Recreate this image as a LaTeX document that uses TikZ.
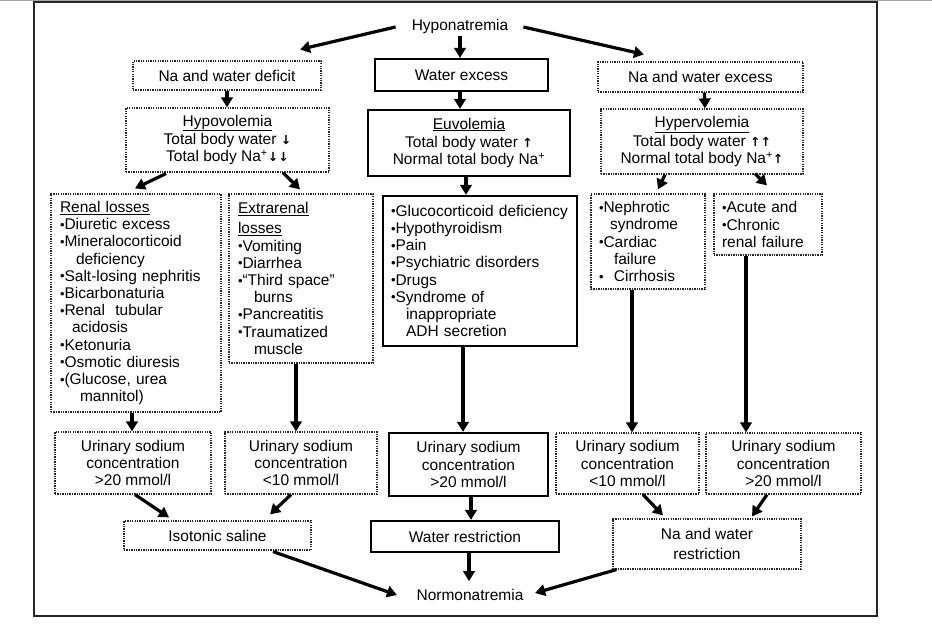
\documentclass[tikz,border=0pt]{standalone}
\usepackage{fontspec}
\setmainfont{Liberation Sans}
\newfontfamily\arrfont{DejaVu Sans}
\usetikzlibrary{arrows.meta,calc}
\newcommand{\bu}{\raisebox{0.05ex}{\fontsize{13}{13}\selectfont •}}
\newcommand{\ardn}{{\arrfont\bfseries\fontsize{12.5}{12.5}\selectfont ↓}}
\newcommand{\arup}{{\arrfont\bfseries\fontsize{12.5}{12.5}\selectfont ↑}}
\begin{document}
\begin{tikzpicture}[x=1pt,y=-1pt,
  every node/.style={font=\fontsize{15.5}{17.2}\selectfont, inner sep=0pt},
  dbox/.style={draw=black!85, dash pattern=on 1.3pt off 1.1pt, line width=1.2pt},
  sbox/.style={draw=black, line width=2.2pt},
  arr/.style={line width=3.2pt, -{Triangle[length=10pt,width=11.5pt]}},
]
\useasboundingbox (0,0) rectangle (932,629);
\draw[black!35, line width=1.5pt] (0,0.6) -- (932,0.6);
\draw[black!85, line width=1.5pt] (34,2) rectangle (877,616);

% top level
\node (hypo) at (460,26) {Hyponatremia};
\node[dbox, minimum width=188pt, minimum height=29pt] (deficit) at (227,75.5) {Na and water deficit};
\node[sbox, minimum width=173pt, minimum height=32pt] (wexcess) at (461.5,75) {Water excess};
\node[dbox, minimum width=205pt, minimum height=30pt] (nwexcess) at (700.5,77) {Na and water excess};

% volemia
\node[dbox, minimum width=203pt, minimum height=64pt, align=center] (hypovol) at (227.5,140)
  {\underline{Hypovolemia}\\[1.5pt] Total body water \ardn\\ Total body Na\textsuperscript{+}\ardn\ardn};
\node[sbox, minimum width=202pt, minimum height=66pt, align=center] (euvol) at (469,143)
  {\underline{Euvolemia}\\[1.5pt] Total body water \arup\\ Normal total body Na\textsuperscript{+}};
\node[dbox, minimum width=202pt, minimum height=65pt, align=center] (hypervol) at (702,141.5)
  {\underline{Hypervolemia}\\[1.5pt] Total body water \arup\arup\\ Normal total body Na\textsuperscript{+}\arup};

% causes
\node[dbox, minimum width=170pt, minimum height=218pt, text width=152pt, align=left] (renal) at (136,303)
  {\underline{Renal losses}\\
   \bu Diuretic excess\\
   \bu Mineralocorticoid\\
   \hspace*{16pt}deficiency\\
   \bu\mbox{Salt-losing nephritis}\\
   \bu Bicarbonaturia\\
   \bu Renal\ \ tubular\\
   \hspace*{12pt}acidosis\\
   \bu Ketonuria\\
   \bu Osmotic diuresis\\
   \bu (Glucose, urea\\
   \hspace*{20pt}mannitol)};
\node[dbox, minimum width=144pt, minimum height=169pt, text width=126pt, align=left] (extra) at (301,278.5)
  {\underline{Extrarenal}\\[3pt]
   \underline{losses}\\
   \bu Vomiting\\
   \bu Diarrhea\\
   \bu “Third space”\\
   \hspace*{16pt}burns\\
   \bu Pancreatitis\\
   \bu Traumatized\\
   \hspace*{16pt}muscle};
\node[sbox, minimum width=194pt, minimum height=150pt, text width=178pt, align=left] (eulist) at (480,271)
  {\bu\mbox{Glucocorticoid deficiency}\\
   \bu Hypothyroidism\\
   \bu Pain\\
   \bu\mbox{Psychiatric disorders}\\
   \bu Drugs\\
   \bu Syndrome of\\
   \hspace*{15pt}inappropriate\\
   \hspace*{15pt}ADH secretion};
\node[dbox, minimum width=114pt, minimum height=95pt, text width=98pt, align=left] (nephr) at (648,241.5)
  {\bu Nephrotic\\
   \hspace*{11pt}syndrome\\
   \bu Cardiac\\
   \hspace*{15pt}failure\\
   \bu\ \ Cirrhosis};
\node[dbox, minimum width=108pt, minimum height=61pt, text width=92pt, align=left] (acute) at (768,224.5)
  {\bu Acute and\\
   \bu Chronic\\
   renal failure};

% urinary sodium
\node[dbox, minimum width=156pt, minimum height=62pt, align=center] (u1) at (133,463)
  {Urinary sodium\\ concentration\\ >20 mmol/l};
\node[dbox, minimum width=152pt, minimum height=62pt, align=center] (u2) at (301,463)
  {Urinary sodium\\ concentration\\ <10 mmol/l};
\node[sbox, minimum width=159pt, minimum height=63pt, align=center] (u3) at (468.5,464.5)
  {Urinary sodium\\ concentration\\ >20 mmol/l};
\node[dbox, minimum width=143pt, minimum height=61pt, align=center] (u4) at (627.5,463.5)
  {Urinary sodium\\ concentration\\ <10 mmol/l};
\node[dbox, minimum width=155pt, minimum height=61pt, align=center] (u5) at (783.5,463.5)
  {Urinary sodium\\ concentration\\ >20 mmol/l};

% treatments
\node[dbox, minimum width=187pt, minimum height=29pt] (iso) at (217.5,535.5) {Isotonic saline};
\node[sbox, minimum width=188pt, minimum height=31pt] (wrest) at (465,536.5) {Water restriction};
\node[dbox, minimum width=188pt, minimum height=50pt, align=center] (nwrest) at (707,544)
  {Na and water\\[2pt] restriction};
\node (normo) at (470,595) {Normonatremia};

% arrows
\draw[arr] ($(hypo.west)+(-16,1)$) -- ($(deficit.north)+(73,-11)$);
\draw[arr] ($(hypo.south)+(0,3)$) -- (hypo.south |- wexcess.north);
\draw[arr] ($(hypo.east)+(15,1)$) -- ($(nwexcess.north)+(-56.5,-7)$);
\draw[arr] (deficit.south) -- (deficit.south |- hypovol.north);
\draw[arr] (wexcess.south -| hypo.south) -- (hypo.south |- euvol.north);
\draw[arr] ($(nwexcess.south)+(4,0)$) -- ($(hypervol.north)+(3,0)$);
\draw[arr] ($(hypovol.south)+(-61.5,1)$) -- ($(renal.north)+(-1,-5)$);
\draw[arr] ($(hypovol.south)+(55.5,0)$) -- ($(extra.north)+(-1,-4)$);
\draw[arr] ($(euvol.south)+(-3,0)$) -- ($(eulist.north)+(-14,0)$);
\draw[arr] ($(hypervol.south)+(-37,0)$) -- ($(nephr.north)+(10,-4)$);
\draw[arr] ($(hypervol.south)+(53,-1)$) -- ($(acute.north)+(-1,-8)$);
\draw[arr] ($(renal.south)+(-4,0)$) -- ($(u1.north)+(-1,0)$);
\draw[arr] ($(extra.south)+(-5,0)$) -- ($(u2.north)+(-5,0)$);
\draw[arr] ($(eulist.south)+(-17,0)$) -- ($(u3.north)+(-5.5,0)$);
\draw[arr] ($(nephr.south)+(-16,0)$) -- ($(u4.north)+(4.5,0)$);
\draw[arr] ($(acute.south)+(-22,0)$) -- ($(u5.north)+(-37.5,0)$);
\draw[arr] ($(u1.south)+(2,0)$) -- ($(iso.north)+(-48.5,-3)$);
\draw[arr] ($(u2.south)+(-10,0)$) -- ($(iso.north)+(52.5,-6)$);
\draw[arr] ($(u3.south)+(2.5,0)$) -- ($(wrest.north)+(6,0)$);
\draw[arr] ($(u4.south)+(15.5,0)$) -- ($(nwrest.north)+(-44,-3)$);
\draw[arr] ($(u5.south)+(-16.5,0)$) -- ($(nwrest.north)+(45,-2)$);
\draw[arr] ($(iso.south)+(55.5,1)$) -- ($(normo.west)+(-19.5,0)$);
\draw[arr] ($(wrest.south)+(4,0)$) -- ($(normo.north)+(-1,-8)$);
\draw[arr] ($(nwrest.south west)+(4,0)$) -- ($(normo.east)+(11.5,-2)$);
\end{tikzpicture}
\end{document}
